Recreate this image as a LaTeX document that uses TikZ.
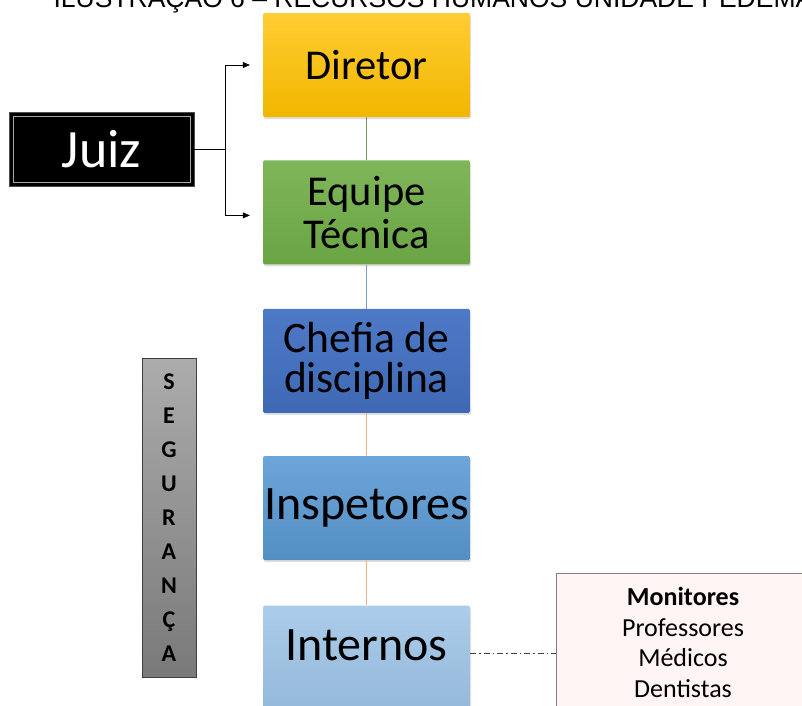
\documentclass[tikz,border=0pt]{standalone}
\usepackage{fontspec}
\setmainfont{Carlito}
\newfontfamily\titlefont{Liberation Sans}
\usetikzlibrary{positioning,arrows.meta,shadows}

\definecolor{ouro}{HTML}{FFC000}
\definecolor{verde}{HTML}{70AD47}
\definecolor{azul}{HTML}{4472C4}
\definecolor{celeste}{HTML}{5B9BD5}
\definecolor{claro}{HTML}{9DC3E6}
\definecolor{laranja}{HTML}{F4B183}

\tikzset{
  cargo/.style={minimum width=207pt, minimum height=104pt, inner sep=0pt,
    align=center, font=\fontsize{42.5}{43}\selectfont, rounded corners=1.5pt,
    drop shadow={shadow xshift=1pt, shadow yshift=-2pt, opacity=0.25}},
  grande/.style={font=\fontsize{48}{48}\selectfont},
  seta/.style={-{Triangle[length=7pt,width=6pt]}, thin},
  elo/.style={line width=0.6pt}
}

\begin{document}
\begin{tikzpicture}[x=1pt,y=-1pt]
  \useasboundingbox (0,0) rectangle (802,705);
  \clip (0,0) rectangle (802,705);
  \fill[white] (0,0) rectangle (802,705);

  \node[anchor=base west, font=\titlefont\fontsize{26.5}{26.5}\selectfont] (titulo) at (50,7)
    {ILUSTRAÇÃO 6 – RECURSOS HUMANOS UNIDADE PEDEMA};

  % cadeia de cargos
  \node[cargo, top color=ouro!80, bottom color=ouro!95!black] (diretor) at (366.5,65) {Diretor};
  \node[cargo, top color=verde!90!white, bottom color=verde!95!black, below=43pt of diretor] (equipe) {Equipe\\Técnica};
  \node[cargo, top color=azul!95!white, bottom color=azul!92!black, font=\fontsize{43.5}{40}\selectfont,
    below=44pt of equipe] (chefia) {Chefia de\\disciplina};
  \node[cargo, grande, top color=celeste!90!white, bottom color=celeste!92!black, below=43pt of chefia] (inspetores) {Inspetores};
  \node[cargo, grande, top color=claro!85!white, bottom color=claro!95!black, text height=55pt, text depth=49pt,
    below=45pt of inspetores] (internos) {Internos};

  \draw[elo, verde!60!gray] (diretor) -- (equipe);
  \draw[elo, azul!70!white] (equipe) -- (chefia);
  \draw[elo, laranja] (chefia) -- (inspetores);
  \draw[elo, laranja] (inspetores) -- (internos);

  % juiz
  \node[fill=black, draw=gray!60!black, minimum width=185pt, minimum height=74pt, inner sep=0pt,
    text=white, font=\fontsize{54}{54}\selectfont] (juiz) at (101.5,149) {Juiz};
  \draw[gray!70] ([shift={(4pt,4pt)}]juiz.south west) rectangle ([shift={(-4pt,-4pt)}]juiz.north east);
  \coordinate (ramo) at ([xshift=31pt]juiz.east);
  \draw[thin] (juiz.east) -- (ramo);
  \draw[seta] (ramo) |- ([xshift=-13pt]diretor.west);
  \draw[seta] (ramo) |- ([xshift=-13pt,yshift=-3pt]equipe.west);

  % seguranca
  \node[draw=black!75, top color=gray!65, bottom color=gray!95!black, minimum width=54pt, minimum height=319pt,
    inner sep=0pt, align=center, font=\bfseries\fontsize{24}{34}\selectfont] (seguranca) at (169,517.5)
    {S\\E\\G\\U\\R\\A\\N\\Ç\\A};

  % equipe de apoio
  \node[draw=gray, fill=red!4, minimum width=254pt, minimum height=139pt, inner sep=0pt, align=center,
    font=\fontsize{26}{30.5}\selectfont] (apoio) at (683,642.5)
    {\textbf{Monitores}\\Professores\\Médicos\\Dentistas};
  \draw[black!75, line width=0.8pt, dash pattern=on 6pt off 3pt on 1.5pt off 3pt]
    ([yshift=4pt]internos.east) -- ([yshift=4pt]internos.east -| apoio.west);
\end{tikzpicture}
\end{document}
